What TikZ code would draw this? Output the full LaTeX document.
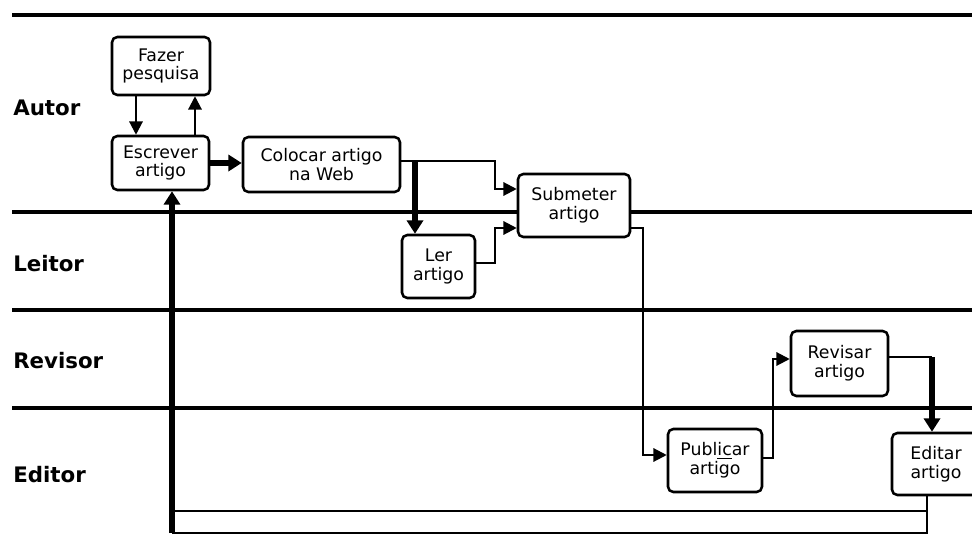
\documentclass[tikz,border=0pt]{standalone}
\usepackage{fontspec}
\setmainfont{DejaVu Sans}
\usetikzlibrary{arrows.meta, positioning}

\begin{document}
\begin{tikzpicture}[x=0.75pt, y=-0.75pt,
        task/.style={draw, line width=1.9pt, rounded corners=4pt, fill=white, align=center,
            inner sep=1pt, font=\fontsize{13}{14}\selectfont},
        lanelabel/.style={anchor=west, inner sep=0pt, font=\bfseries\fontsize{16}{18}\selectfont},
        lane/.style={line width=3.2pt},
        plain/.style={line width=1.6pt},
        flow/.style={line width=1.6pt, -{Triangle[length=10pt, width=10pt]}},
        heavyflow/.style={line width=4pt, -{Triangle[length=10pt, width=12pt]}}]
    \useasboundingbox (0,0) rectangle (972,550);
    \clip (0,0) rectangle (972,550);

    % 泳道分隔线
    \foreach \y in {15, 212, 310, 408}
        \draw[lane] (12,\y) -- (972,\y);

    % 泳道名称
    \foreach \y/\name in {108/Autor, 264/Leitor, 361/Revisor, 475/Editor}
        \node[lanelabel] (lane-\name) at (13,\y) {\name};

    % --- 任务框 ---
    \node[task, minimum width=73.5pt, minimum height=43.5pt] (fazer) at (161,66) {Fazer\\pesquisa};
    \node[task, minimum width=72.75pt, minimum height=40.5pt] (escrever) at (160.5,163) {Escrever\\artigo};
    \node[task, minimum width=117.75pt, minimum height=41.25pt] (colocar) at (321.5,164.5) {Colocar artigo\\na Web};
    \node[task, minimum width=84pt, minimum height=47.25pt] (submeter) at (574,205.5) {Submeter\\artigo};
    \node[task, minimum width=54.75pt, minimum height=47.25pt] (ler) at (438.5,266.5) {Ler\\artigo};
    \node[task, minimum width=70.5pt, minimum height=47.25pt] (publicar) at (715,460.5) {Publ\underline{ic}ar\\artigo};
    \node[task, minimum width=72.75pt, minimum height=48.75pt] (revisar) at (839.5,363.5) {Revisar\\artigo};
    \node[task, minimum width=66pt, minimum height=46.5pt] (editar) at (936,464) {Editar\\artigo};

    % --- 连线 ---
    % Autor
    \draw[flow] (fazer.south -| 136,0) -- (escrever.north -| 136,0);
    \draw[flow] (escrever.north -| 195,0) -- (fazer.south -| 195,0);
    \draw[heavyflow] (escrever.east) -- (colocar.west |- escrever.east);

    % Colocar -> Submeter / Ler
    \coordinate (split) at (415,161);
    \draw[flow] (colocar.east |- split) -- (495,161) |- (submeter.west |- 0,189);
    \draw[heavyflow] (split) -- (ler.north -| split);
    \draw[flow] (ler.east |- 0,263) -- (495,263) |- (submeter.west |- 0,228);

    % Submeter -> Publicar -> Revisar -> Editar
    \draw[flow] (submeter.east |- 0,228) -- (643,228) |- (publicar.west |- 0,455);
    \draw[flow] (publicar.east |- 0,458) -- (773,458) |- (revisar.west |- 0,359);
    \coordinate (turn) at (932,357);
    \draw[plain] (revisar.east |- turn) -- (turn);
    \draw[heavyflow] (turn) -- (editar.north -| turn);

    % Editar -> Escrever (retorno)
    \coordinate (back) at (172,533);
    \draw[plain] (editar.south -| 927,0) |- (back);
    \draw[plain] (back |- 0,511) -- (927,511);
    \draw[heavyflow] (back) -- (escrever.south -| back);

\end{tikzpicture}
\end{document}
